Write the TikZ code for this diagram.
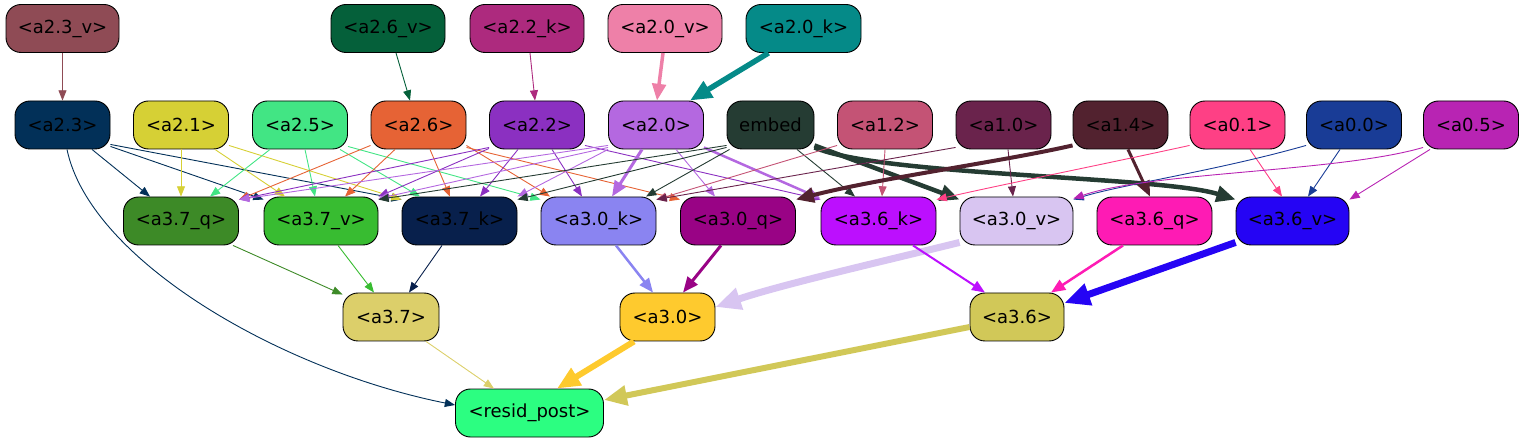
\documentclass[tikz,border=0pt]{standalone}
\usepackage{fontspec}
\setmainfont{DejaVu Sans}
\usetikzlibrary{arrows.meta}
\definecolor{c23v}{HTML}{8F4B55}
\definecolor{c26v}{HTML}{05603A}
\definecolor{c22k}{HTML}{AD2A7E}
\definecolor{c20v}{HTML}{EE80A8}
\definecolor{c20k}{HTML}{058A88}
\definecolor{c23}{HTML}{023058}
\definecolor{c21}{HTML}{D6D035}
\definecolor{c25}{HTML}{42E584}
\definecolor{c26}{HTML}{E66335}
\definecolor{c22}{HTML}{8B30C1}
\definecolor{c20}{HTML}{B468E0}
\definecolor{cemb}{HTML}{253C33}
\definecolor{c12}{HTML}{C45375}
\definecolor{c10}{HTML}{6A234C}
\definecolor{c14}{HTML}{52222F}
\definecolor{c01}{HTML}{FE4085}
\definecolor{c00}{HTML}{193C96}
\definecolor{c05}{HTML}{B824B3}
\definecolor{c37q}{HTML}{3D8A27}
\definecolor{c37v}{HTML}{38BC31}
\definecolor{c37k}{HTML}{08204C}
\definecolor{c30k}{HTML}{8A84F1}
\definecolor{c30q}{HTML}{990385}
\definecolor{c36k}{HTML}{BC0FFE}
\definecolor{c30v}{HTML}{D8C5F1}
\definecolor{c36q}{HTML}{FE1BB4}
\definecolor{c36v}{HTML}{2504F4}
\definecolor{c37}{HTML}{DCCF6A}
\definecolor{c30}{HTML}{FECA2E}
\definecolor{c36}{HTML}{D1C858}
\definecolor{cres}{HTML}{2CFE81}
\begin{document}
\begin{tikzpicture}[x=1pt,y=-1pt,
  nd/.style={draw=black, line width=0.9pt, rounded corners=15pt, minimum height=48pt, inner sep=2pt, font=\fontsize{18}{21}\selectfont, fill=#1},
  ed/.style 2 args={draw=#1, line width=#2, -{Triangle[length=8pt 2.5, width=6pt 2.2]}}]
\useasboundingbox (0,0) rectangle (1531,443);
% row 1
\node[nd=c23v, minimum width=113pt] (a23v) at (62.5,28.5) {<a2.3\_v>};
\node[nd=c26v, minimum width=114pt] (a26v) at (388,28.5) {<a2.6\_v>};
\node[nd=c22k, minimum width=114pt] (a22k) at (527,28.5) {<a2.2\_k>};
\node[nd=c20v, minimum width=114pt] (a20v) at (665,28.5) {<a2.0\_v>};
\node[nd=c20k, minimum width=115pt] (a20k) at (803.5,28.5) {<a2.0\_k>};
% row 2
\node[nd=c23, minimum width=95pt] (a23) at (62.5,125) {<a2.3>};
\node[nd=c21, minimum width=95pt] (a21) at (181,125) {<a2.1>};
\node[nd=c25, minimum width=95pt] (a25) at (300,125) {<a2.5>};
\node[nd=c26, minimum width=95pt] (a26) at (418.5,125) {<a2.6>};
\node[nd=c22, minimum width=95pt] (a22) at (537,125) {<a2.2>};
\node[nd=c20, minimum width=95pt] (a20) at (656,125) {<a2.0>};
\node[nd=cemb, minimum width=87pt] (emb) at (770.5,125) {embed};
\node[nd=c12, minimum width=95pt] (a12) at (885,125) {<a1.2>};
\node[nd=c10, minimum width=95pt] (a10) at (1003.5,125) {<a1.0>};
\node[nd=c14, minimum width=95pt] (a14) at (1120.5,125) {<a1.4>};
\node[nd=c01, minimum width=95pt] (a01) at (1237.5,125) {<a0.1>};
\node[nd=c00, minimum width=95pt] (a00) at (1354,125) {<a0.0>};
\node[nd=c05, minimum width=95pt] (a05) at (1471,125) {<a0.5>};
% row 3
\node[nd=c37q, minimum width=115pt] (a37q) at (181,221) {<a3.7\_q>};
\node[nd=c37v, minimum width=114pt] (a37v) at (321,221) {<a3.7\_v>};
\node[nd=c37k, minimum width=115pt] (a37k) at (459.5,221) {<a3.7\_k>};
\node[nd=c30k, minimum width=115pt] (a30k) at (598.5,221) {<a3.0\_k>};
\node[nd=c30q, minimum width=115pt] (a30q) at (738,221) {<a3.0\_q>};
\node[nd=c36k, minimum width=115pt] (a36k) at (878.5,221) {<a3.6\_k>};
\node[nd=c30v, minimum width=113pt] (a30v) at (1016.5,221) {<a3.0\_v>};
\node[nd=c36q, minimum width=115pt] (a36q) at (1154.5,221) {<a3.6\_q>};
\node[nd=c36v, minimum width=113pt] (a36v) at (1292.5,221) {<a3.6\_v>};
% row 4
\node[nd=c37, minimum width=96pt] (a37) at (391,317) {<a3.7>};
\node[nd=c30, minimum width=95pt] (a30) at (667.5,317) {<a3.0>};
\node[nd=c36, minimum width=94pt] (a36) at (1017,317) {<a3.6>};
% row 5
\node[nd=cres, minimum width=148pt] (res) at (529.5,413) {<resid\_post>};
% edges row1 -> row2
\draw[ed={c23v}{0.9pt}] (a23v.south) -- (a23.north);
\draw[ed={c26v}{0.9pt}] ([xshift=8pt]a26v.south) -- ([xshift=-8.5pt]a26.north);
\draw[ed={c22k}{0.9pt}] ([xshift=3pt]a22k.south) -- ([xshift=-2pt]a22.north);
\draw[ed={c20v}{3.5pt}] ([xshift=-2pt]a20v.south) -- ([xshift=1pt]a20.north);
\draw[ed={c20k}{5.5pt}] ([xshift=-35pt]a20k.south) -- ([xshift=34pt]a20.north);
% a2.3
\draw[ed={c23}{0.9pt}] ([xshift=29.5pt]a23.south) -- ([xshift=-31pt]a37q.north);
\draw[ed={c23}{0.9pt}] ([yshift=3pt]a23.south east) -- ([yshift=-3pt]a37v.north west);
\draw[ed={c23}{0.9pt}] ([yshift=5pt]a23.south east) -- ([yshift=-3pt]a37k.north west);
\draw[ed={c23}{0.9pt}] ([xshift=4.5pt]a23.south) .. controls (90,260) and (280,370) .. ([yshift=8pt]res.west);
% a2.1
\draw[ed={c21}{0.9pt}] (a21.south) -- (a37q.north);
\draw[ed={c21}{0.9pt}] ([xshift=34pt]a21.south) -- ([xshift=-36pt]a37v.north);
\draw[ed={c21}{0.9pt}] ([yshift=4pt]a21.south east) -- ([yshift=-3pt]a37k.north west);
% a2.5
\draw[ed={c25}{0.9pt}] ([xshift=-30pt]a25.south) -- ([xshift=29pt]a37q.north);
\draw[ed={c25}{0.9pt}] ([xshift=5pt]a25.south) -- ([xshift=-6pt]a37v.north);
\draw[ed={c25}{0.9pt}] ([xshift=40pt]a25.south) -- ([xshift=-39.5pt]a37k.north);
\draw[ed={c25}{0.9pt}] ([yshift=3pt]a25.south east) -- ([yshift=-3pt]a30k.north west);
% a2.6
\draw[ed={c26}{0.9pt}] ([yshift=4pt]a26.south west) -- ([yshift=-3pt]a37q.north east);
\draw[ed={c26}{0.9pt}] ([xshift=-23.5pt]a26.south) -- ([xshift=24pt]a37v.north);
\draw[ed={c26}{0.9pt}] ([xshift=11.5pt]a26.south) -- ([xshift=-9.5pt]a37k.north);
\draw[ed={c26}{0.9pt}] ([yshift=4pt]a26.south east) -- ([xshift=-48.5pt]a30k.north);
\draw[ed={c26}{0.9pt}] ([yshift=2pt]a26.south east) -- ([yshift=-3pt]a30q.north west);
% a2.2
\draw[ed={c22}{0.9pt}] ([yshift=2pt]a22.south west) -- ([yshift=-3pt]a37q.north east);
\draw[ed={c22}{0.9pt}] ([yshift=1pt]a22.south west) -- (a37v.north east);
\draw[ed={c22}{0.9pt}] ([xshift=-19pt]a22.south) -- ([xshift=20.5pt]a37k.north);
\draw[ed={c22}{0.9pt}] ([xshift=15pt]a22.south) -- ([xshift=-16.5pt]a30k.north);
\draw[ed={c22}{0.9pt}] ([yshift=4pt]a22.south east) -- ([yshift=-3pt]a36k.north west);
% a2.0
\draw[ed={c20}{0.9pt}] ([yshift=4pt]a20.south west) -- ([yshift=-3pt]a37q.north east);
\draw[ed={c20}{0.9pt}] ([yshift=2pt]a20.south west) -- ([yshift=-2pt]a37v.north east);
\draw[ed={c20}{0.9pt}] (a20.south west) -- (a37k.north east);
\draw[ed={c20}{3pt}] ([xshift=-14pt]a20.south) -- ([xshift=13.5pt]a30k.north);
\draw[ed={c20}{0.9pt}] ([xshift=20pt]a20.south) -- ([xshift=-23pt]a30q.north);
\draw[ed={c20}{2.5pt}] ([yshift=2pt]a20.south east) -- ([yshift=-2pt]a36k.north west);
% embed
\draw[ed={cemb}{0.9pt}] ([yshift=4pt]emb.south west) -- ([yshift=-3pt]a37v.north east);
\draw[ed={cemb}{0.9pt}] ([yshift=2pt]emb.south west) -- ([yshift=-3pt]a37k.north east);
\draw[ed={cemb}{0.9pt}] ([xshift=3pt]emb.south west) -- ([xshift=47.5pt]a30k.north);
\draw[ed={cemb}{0.9pt}] ([xshift=26.5pt]emb.south) -- ([xshift=-23.5pt]a36k.north);
\draw[ed={cemb}{4.5pt}] ([yshift=4pt]emb.south east) -- ([yshift=-3pt]a30v.north west);
\draw[ed={cemb}{4.5pt}] ([yshift=2pt]emb.south east) .. controls (880,176) and (1160,176) .. ([yshift=-3pt]a36v.north west);
% a1.2
\draw[ed={c12}{0.9pt}] ([yshift=4pt]a12.south west) -- ([yshift=-3pt]a30k.north east);
\draw[ed={c12}{0.9pt}] (a12.south) -- ([xshift=3.5pt]a36k.north);
% a1.0
\draw[ed={c10}{0.9pt}] ([yshift=2pt]a10.south west) -- ([yshift=-3pt]a30k.north east);
\draw[ed={c10}{0.9pt}] ([xshift=4.5pt]a10.south) -- ([xshift=-3.5pt]a30v.north);
% a1.4
\draw[ed={c14}{4pt}] ([yshift=4pt]a14.south west) .. controls (1000,162) and (880,178) .. ([yshift=-3pt]a30q.north east);
\draw[ed={c14}{3pt}] ([xshift=7.5pt]a14.south) -- ([xshift=-4.5pt]a36q.north);
% a0.1
\draw[ed={c01}{0.9pt}] ([yshift=4pt]a01.south west) .. controls (1100,165) and (1000,185) .. ([yshift=-3pt]a36k.north east);
\draw[ed={c01}{0.9pt}] ([xshift=12.5pt]a01.south) -- ([xshift=-10.5pt]a36v.north);
% a0.0
\draw[ed={c00}{0.9pt}] ([yshift=4pt]a00.south west) .. controls (1220,170) and (1120,185) .. ([yshift=-3pt]a30v.north east);
\draw[ed={c00}{0.9pt}] ([xshift=-14pt]a00.south) -- ([xshift=15.5pt]a36v.north);
% a0.5
\draw[ed={c05}{0.9pt}] ([yshift=2pt]a05.south west) .. controls (1340,172) and (1150,172) .. ([yshift=-2pt]a30v.north east);
\draw[ed={c05}{0.9pt}] ([xshift=-41pt]a05.south) -- ([yshift=-3pt]a36v.north east);
% row 3 -> row 4
\draw[ed={c37q}{0.9pt}] ([xshift=52pt]a37q.south) -- ([yshift=-2pt]a37.north west);
\draw[ed={c37v}{0.9pt}] ([xshift=17pt]a37v.south) -- ([xshift=-17pt]a37.north);
\draw[ed={c37k}{0.9pt}] ([xshift=-17.5pt]a37k.south) -- ([xshift=18pt]a37.north);
\draw[ed={c30k}{2.5pt}] ([xshift=17.5pt]a30k.south) -- ([xshift=-14.5pt]a30.north);
\draw[ed={c30q}{3pt}] ([xshift=-17pt]a30q.south) -- ([xshift=15.5pt]a30.north);
\draw[ed={c30v}{7pt}] ([yshift=3pt]a30v.south west) .. controls (880,262) and (780,285) .. ([yshift=10pt]a30.east);
\draw[ed={c36k}{2pt}] ([xshift=34.5pt]a36k.south) -- ([xshift=-32pt]a36.north);
\draw[ed={c36q}{2.5pt}] ([xshift=-31.5pt]a36q.south) -- ([xshift=34pt]a36.north);
\draw[ed={c36v}{7pt}] ([yshift=3pt]a36v.south west) -- ([yshift=14pt]a36.east);
% row 4 -> row 5
\draw[ed={c37}{0.9pt}] ([xshift=35pt]a37.south) -- ([xshift=-35.5pt]res.north);
\draw[ed={c30}{6pt}] ([xshift=-33.5pt]a30.south) -- ([xshift=27.5pt]res.north);
\draw[ed={c36}{6pt}] ([yshift=-10pt]a36.west) -- ([yshift=13pt]res.east);
\end{tikzpicture}
\end{document}
